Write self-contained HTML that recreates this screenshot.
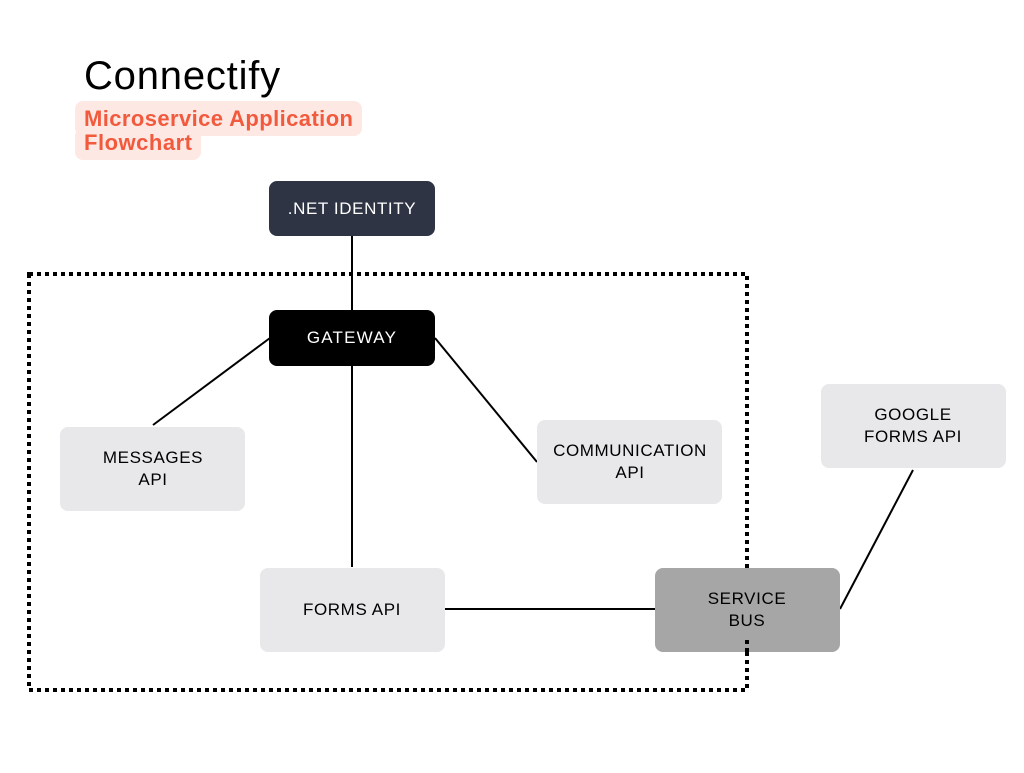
<!DOCTYPE html>
<html><head><meta charset="utf-8"><style>
body{margin:0;background:#fff;width:1024px;height:768px;overflow:hidden;font-family:"Liberation Sans",sans-serif}
</style></head><body>
<svg width="1024" height="768" xmlns="http://www.w3.org/2000/svg" font-family="Liberation Sans, sans-serif">
<rect width="1024" height="768" fill="#fff"/>
<text x="84" y="89" font-size="40" fill="#000" letter-spacing="0.8">Connectify</text>
<rect x="75" y="101" width="287" height="35" rx="8" fill="#fde8e4"/>
<rect x="75" y="128" width="126" height="32" rx="8" fill="#fde8e4"/>
<text x="84" y="126" font-size="22" font-weight="bold" fill="#f25a3e" textLength="269">Microservice Application</text>
<text x="84" y="150" font-size="22" font-weight="bold" fill="#f25a3e" textLength="108">Flowchart</text>
<rect x="29" y="274" width="718" height="416" fill="none" stroke="#000" stroke-width="4" stroke-dasharray="4 4"/>
<g stroke="#000" stroke-width="2">
<line x1="352" y1="236" x2="352" y2="310"/>
<line x1="352" y1="366" x2="352" y2="567"/>
<line x1="270" y1="338" x2="153" y2="425"/>
<line x1="435" y1="338" x2="537" y2="462"/>
<line x1="444" y1="609" x2="655" y2="609"/>
<line x1="840" y1="609" x2="913" y2="470"/>
</g>
<g font-size="17" text-anchor="middle" letter-spacing="0.6">
<rect x="269" y="181" width="166" height="55" rx="8" fill="#2f3445"/>
<text x="352" y="214" fill="#fff">.NET IDENTITY</text>
<rect x="269" y="310" width="166" height="56" rx="8" fill="#000"/>
<text x="352" y="343" fill="#fff" letter-spacing="1.2">GATEWAY</text>
<rect x="60" y="427" width="185" height="84" rx="8" fill="#e8e8ea"/>
<text x="153" y="463">MESSAGES</text>
<text x="153" y="485">API</text>
<rect x="537" y="420" width="185" height="84" rx="8" fill="#e8e8ea"/>
<text x="630" y="456">COMMUNICATION</text>
<text x="630" y="478">API</text>
<rect x="821" y="384" width="185" height="84" rx="8" fill="#e8e8ea"/>
<text x="913" y="420">GOOGLE</text>
<text x="913" y="442">FORMS API</text>
<rect x="260" y="568" width="185" height="84" rx="8" fill="#e8e8ea"/>
<text x="352" y="615">FORMS API</text>
<rect x="655" y="568" width="185" height="84" rx="8" fill="#a6a6a6"/>
<text x="747" y="604">SERVICE</text>
<text x="747" y="626">BUS</text>
</g>
<rect x="745" y="640" width="4" height="4" fill="#000"/>
<rect x="745" y="648" width="4" height="4" fill="#000"/>
</svg>
</body></html>
